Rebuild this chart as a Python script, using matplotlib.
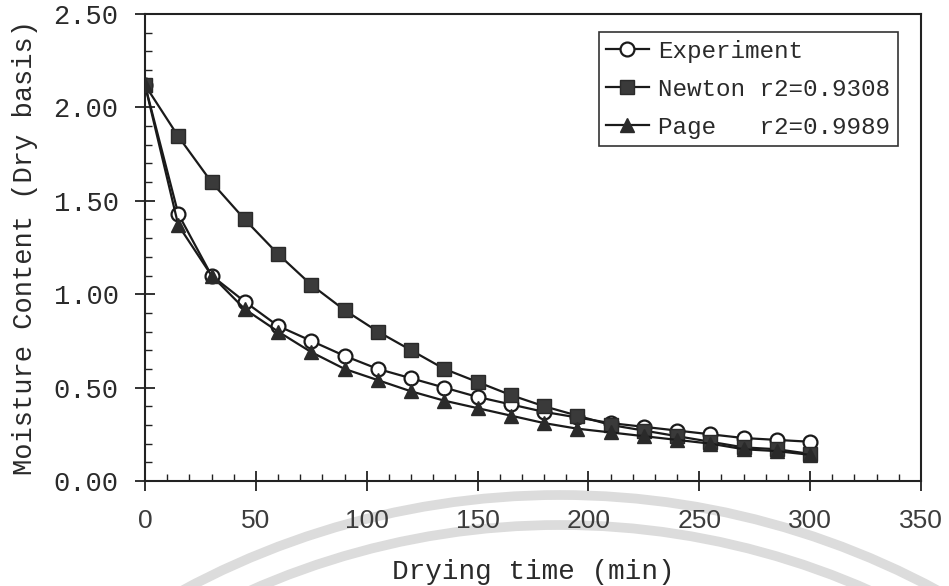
import numpy as np
import matplotlib.pyplot as plt
from matplotlib.patches import Arc
from matplotlib.ticker import MultipleLocator, FormatStrFormatter
from matplotlib.transforms import IdentityTransform

# drying curve data (moisture content, dry basis)
time_min = [0, 15, 30, 45, 60, 75, 90, 105, 120, 135, 150,
            165, 180, 195, 210, 225, 240, 255, 270, 285, 300]
experiment = [2.12, 1.43, 1.10, 0.96, 0.83, 0.75, 0.67, 0.60, 0.55, 0.50, 0.45,
              0.41, 0.37, 0.34, 0.31, 0.29, 0.27, 0.25, 0.23, 0.22, 0.21]
newton = [2.12, 1.845, 1.60, 1.40, 1.215, 1.05, 0.915, 0.80, 0.70, 0.60, 0.53,
          0.46, 0.40, 0.35, 0.30, 0.27, 0.24, 0.21, 0.18, 0.17, 0.145]
page = [2.12, 1.37, 1.10, 0.92, 0.80, 0.69, 0.60, 0.54, 0.48, 0.43, 0.39,
        0.35, 0.31, 0.28, 0.26, 0.24, 0.22, 0.20, 0.17, 0.16, 0.14]
labels = ['Experiment', 'Newton r2=0.9308', 'Page   r2=0.9989']

MONO = 'Liberation Mono'
INK = '#2a2a2a'

fig = plt.figure(figsize=(9.49, 5.86), dpi=100)
W, H = 949, 586
ax = fig.add_axes([145 / W, 1 - 481 / H, (921 - 145) / W, (481 - 14) / H])
ax.set_facecolor('none')

ax.plot(time_min, experiment, '-o', color='#1a1a1a', lw=1.6, ms=10,
        mfc='white', mec='#1a1a1a', mew=1.6, label=labels[0], zorder=3)
ax.plot(time_min, newton, '-s', color='#1a1a1a', lw=1.6, ms=9.5,
        mfc='#3a3a3a', mec='#2a2a2a', mew=1.0, label=labels[1], zorder=4)
ax.plot(time_min, page, '-^', color='#1a1a1a', lw=1.6, ms=10,
        mfc='#2a2a2a', mec='#2a2a2a', mew=1.0, label=labels[2], zorder=5)

ax.set_xlim(0, 350)
ax.set_ylim(0, 2.5)
ax.xaxis.set_major_locator(MultipleLocator(50))
ax.xaxis.set_minor_locator(MultipleLocator(10))
ax.yaxis.set_major_locator(MultipleLocator(0.5))
ax.yaxis.set_minor_locator(MultipleLocator(0.1))
ax.yaxis.set_major_formatter(FormatStrFormatter('%.2f'))

ax.tick_params(which='major', direction='inout', length=14, width=1.3, color='#222222')
ax.tick_params(which='minor', direction='in', length=5, width=1.0, color='#222222')
ax.tick_params(axis='y', which='major', pad=12, labelsize=19.5, labelcolor=INK)
ax.tick_params(axis='x', which='major', pad=13, labelsize=19, labelcolor='#3c3c3c')
for lab in ax.get_yticklabels():
    lab.set_family(MONO)
for lab in ax.get_xticklabels():
    lab.set_family('Liberation Sans')

for sp in ax.spines.values():
    sp.set_linewidth(1.5)
    sp.set_color('#222222')

ax.set_xlabel('Drying time (min)', family=MONO, fontsize=20, color=INK, labelpad=19)
ax.set_ylabel('Moisture Content (Dry basis)', family=MONO, fontsize=19.5, color=INK, labelpad=11)

leg = ax.legend(loc='upper right', bbox_to_anchor=(0.970, 0.961), borderaxespad=0,
                prop={'family': MONO, 'size': 17.5}, fancybox=False, framealpha=1,
                edgecolor='#333333', handlelength=1.75, handletextpad=0.4,
                borderpad=0.3, labelspacing=0.62)
leg.get_frame().set_linewidth(1.2)
for t in leg.get_texts():
    t.set_color(INK)

# faint stamp arcs below the axis
for r in (795, 765):
    arc = Arc((560, H - 1290), 2 * r, 2 * r, theta1=55, theta2=125,
              transform=IdentityTransform(), color='#dcdcdc', lw=7, zorder=-5)
    fig.add_artist(arc)

fig.savefig('out.png', dpi=100, facecolor='white')
